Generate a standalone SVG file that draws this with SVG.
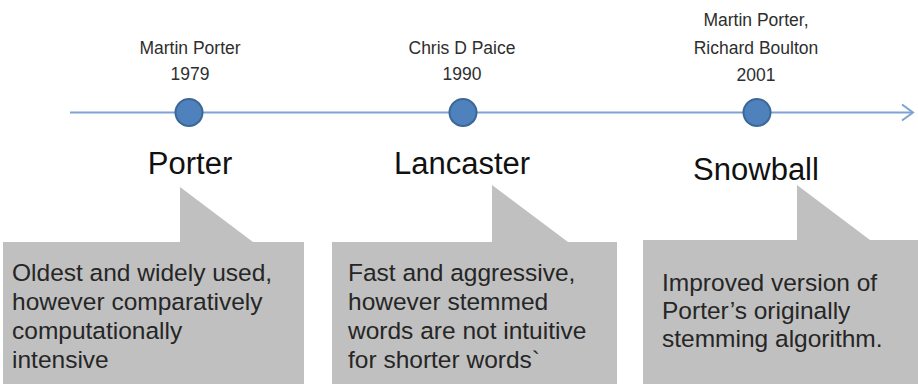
<svg xmlns="http://www.w3.org/2000/svg" width="918" height="384" viewBox="0 0 918 384">
<style>
.who{font-family:"Liberation Sans",Arial,sans-serif;font-size:17.5px;fill:#2e2e2e;text-anchor:middle}
.name{font-family:"Liberation Sans",Arial,sans-serif;font-size:31px;fill:#111;text-anchor:middle}
.desc{font-family:"Liberation Sans",Arial,sans-serif;font-size:24.5px;fill:#262626}
.box{fill:#c0c0c0}
.dot{fill:#4f81bd;stroke:#3c6797;stroke-width:2}
.axis{stroke:#7ea3d2;stroke-width:2;fill:none}
</style>
<defs>
<marker id="arr" markerWidth="14" markerHeight="18" refX="12" refY="9" orient="auto" markerUnits="userSpaceOnUse">
<path d="M1,1 L12,9 L1,17" fill="none" stroke="#7ea3d2" stroke-width="2"/>
</marker>
</defs>
<g id="connectors">
<line class="axis" x1="70" y1="112.5" x2="913" y2="112.5" marker-end="url(#arr)"/>
</g>
<g id="porter">
<text class="who" x="190" y="54">Martin Porter</text>
<text class="who" x="190" y="80">1979</text>
<circle class="dot" cx="189" cy="112.5" r="13.5"/>
<text class="name" x="190" y="174">Porter</text>
<path class="box" d="M3,242 H180 V187 L253,242 H304 V384 H3 Z"/>
<text class="desc" x="12" y="281">Oldest and widely used,</text>
<text class="desc" x="12" y="310">however comparatively</text>
<text class="desc" x="12" y="339">computationally</text>
<text class="desc" x="12" y="368">intensive</text>
</g>
<g id="lancaster">
<text class="who" x="462" y="54">Chris D Paice</text>
<text class="who" x="462" y="80">1990</text>
<circle class="dot" cx="463" cy="112.5" r="13.5"/>
<text class="name" x="462" y="174">Lancaster</text>
<path class="box" d="M332,242 H492 V185 L568,242 H617 V384 H332 Z"/>
<text class="desc" x="348" y="281">Fast and aggressive,</text>
<text class="desc" x="348" y="310">however stemmed</text>
<text class="desc" x="348" y="339">words are not intuitive</text>
<text class="desc" x="348" y="368">for shorter words`</text>
</g>
<g id="snowball">
<text class="who" x="756" y="26">Martin Porter,</text>
<text class="who" x="756" y="54">Richard Boulton</text>
<text class="who" x="756" y="81">2001</text>
<circle class="dot" cx="757" cy="112.5" r="13.5"/>
<text class="name" x="756" y="180">Snowball</text>
<path class="box" d="M643,240 H797 V185 L870,240 H918 V384 H643 Z"/>
<text class="desc" x="662" y="291">Improved version of</text>
<text class="desc" x="662" y="319">Porter’s originally</text>
<text class="desc" x="662" y="347">stemming algorithm.</text>
</g>
</svg>
